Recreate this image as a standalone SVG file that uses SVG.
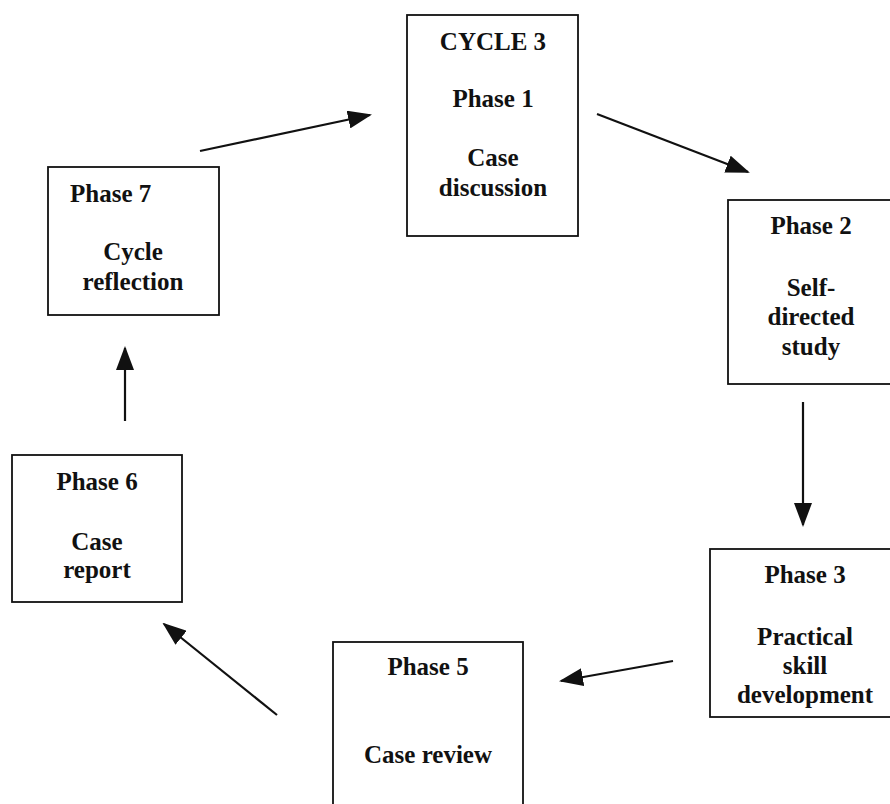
<svg xmlns="http://www.w3.org/2000/svg" width="890" height="804" viewBox="0 0 890 804">
  <style>
    .box { fill: #fff; stroke: #111; stroke-width: 1.8; }
    .t { font-family: "Liberation Serif", "Times New Roman", serif; font-weight: bold; font-size: 25px; fill: #111; text-anchor: middle; }
    .link { stroke: #111; stroke-width: 2.2; fill: none; marker-end: url(#head); }
  </style>
  <defs>
    <marker id="head" viewBox="0 0 24 18" refX="22" refY="9" markerWidth="24" markerHeight="18" markerUnits="userSpaceOnUse" orient="auto">
      <path d="M0,0 L24,9 L0,18 Z" fill="#111"/>
    </marker>
  </defs>
  <rect width="890" height="804" fill="#fff"/>

  <g id="phase1">
    <rect class="box" x="407" y="15" width="171" height="221"/>
    <text class="t" x="493" y="50">CYCLE 3</text>
    <text class="t" x="493" y="107">Phase 1</text>
    <text class="t" x="493" y="166">Case</text>
    <text class="t" x="493" y="196">discussion</text>
  </g>

  <g id="phase2">
    <rect class="box" x="728" y="200" width="170" height="184"/>
    <text class="t" x="811" y="234">Phase 2</text>
    <text class="t" x="811" y="296">Self-</text>
    <text class="t" x="811" y="325">directed</text>
    <text class="t" x="811" y="355">study</text>
  </g>

  <g id="phase3">
    <rect class="box" x="710" y="549" width="190" height="168"/>
    <text class="t" x="805" y="583">Phase 3</text>
    <text class="t" x="805" y="645">Practical</text>
    <text class="t" x="805" y="674">skill</text>
    <text class="t" x="805" y="703">development</text>
  </g>

  <g id="phase5">
    <rect class="box" x="333" y="642" width="190" height="180"/>
    <text class="t" x="428" y="675">Phase 5</text>
    <text class="t" x="428" y="763">Case review</text>
  </g>

  <g id="phase6">
    <rect class="box" x="12" y="455" width="170" height="147"/>
    <text class="t" x="97" y="490">Phase 6</text>
    <text class="t" x="97" y="550">Case</text>
    <text class="t" x="97" y="578">report</text>
  </g>

  <g id="phase7">
    <rect class="box" x="48" y="167" width="171" height="148"/>
    <text class="t" x="70" y="202" style="text-anchor:start">Phase 7</text>
    <text class="t" x="133" y="260">Cycle</text>
    <text class="t" x="133" y="290">reflection</text>
  </g>

  <g id="connectors">
    <line class="link" x1="200" y1="151" x2="370" y2="115"/>
    <line class="link" x1="597" y1="114" x2="748" y2="172"/>
    <line class="link" x1="803" y1="402" x2="803" y2="525"/>
    <line class="link" x1="673" y1="661" x2="561" y2="681"/>
    <line class="link" x1="277" y1="715" x2="164" y2="624"/>
    <line class="link" x1="125" y1="421" x2="125" y2="348"/>
  </g>
</svg>
